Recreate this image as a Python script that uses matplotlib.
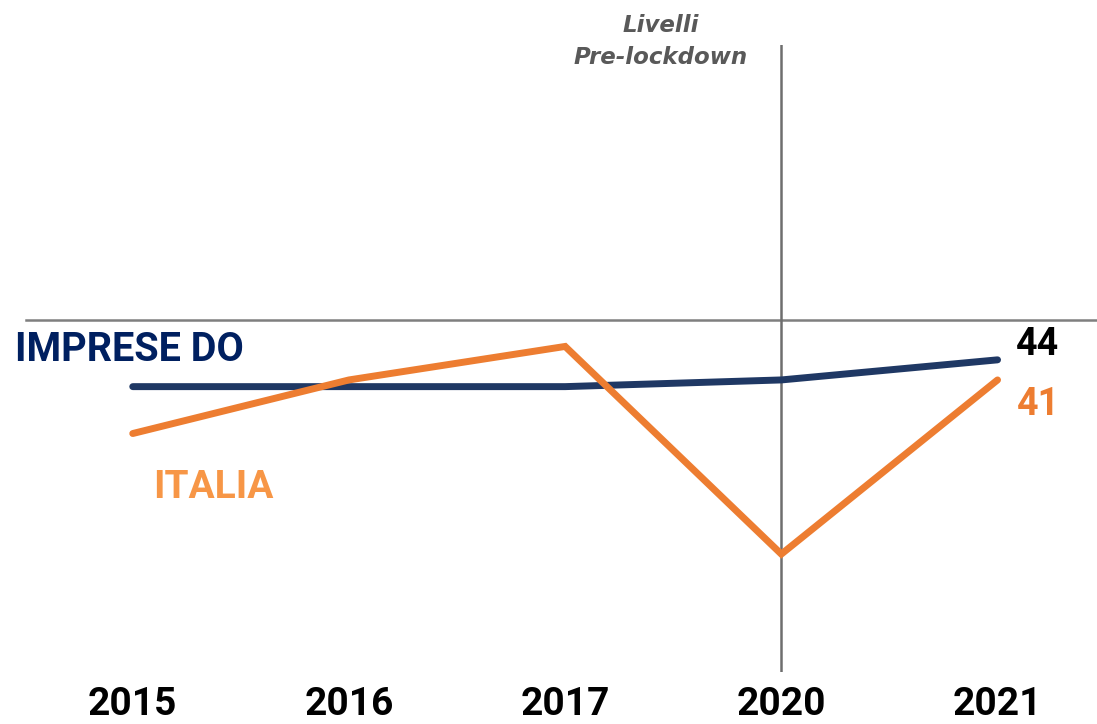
#!/usr/bin/env python3
"""Line chart: IMPRESE DO vs ITALIA, with pre-lockdown reference lines."""

import matplotlib

matplotlib.use("Agg")

import matplotlib.pyplot as plt

YEARS = ["2015", "2016", "2017", "2020", "2021"]
IMPRESE_DO = [40, 40, 40, 41, 44]
ITALIA = [33, 41, 46, 15, 41]
PRE_LOCKDOWN_LEVEL = 50
LOCKDOWN_YEAR = "2020"

BLUE = "#1F3864"
ORANGE = "#ED7D31"
NAVY_TEXT = "#002060"
ORANGE_TEXT = "#F79646"
GREY = "#7F7F7F"
BOLD_FONT = ["Roboto", "DejaVu Sans"]


def main() -> None:
    fig = plt.figure(figsize=(10.97, 7.24), dpi=100)
    ax = fig.add_axes([0.0, 52 / 724, 1.0, 627 / 724])
    x = list(range(len(YEARS)))

    ax.plot(x, IMPRESE_DO, color=BLUE, linewidth=5.0, solid_capstyle="round",
            solid_joinstyle="round", zorder=3)
    ax.plot(x, ITALIA, color=ORANGE, linewidth=5.0, solid_capstyle="round",
            solid_joinstyle="miter", zorder=4)

    ax.axhline(PRE_LOCKDOWN_LEVEL, xmin=26 / 1097, xmax=1.0, color=GREY, linewidth=1.8, zorder=1)
    ax.axvline(YEARS.index(LOCKDOWN_YEAR), color="#6E6E6E", linewidth=1.8, zorder=2)

    ax.set_xlim(-0.614, 4.46)
    ax.set_ylim(-2.6, 91.0)
    for side in ax.spines.values():
        side.set_visible(False)
    ax.set_yticks([])
    ax.set_xticks(x)
    ax.set_xticklabels(YEARS, fontsize=28, fontweight="bold", family=BOLD_FONT, color="black")
    ax.tick_params(axis="x", length=0, pad=10)
    ax.patch.set_alpha(0)

    ax.text(-0.545, 45.5, "IMPRESE DO", color=NAVY_TEXT, fontsize=28.5, fontweight="bold",
            family=BOLD_FONT, ha="left", va="center")
    ax.text(0.092, 25.0, "ITALIA", color=ORANGE_TEXT, fontsize=28, fontweight="bold",
            family=BOLD_FONT, ha="left", va="center")

    ax.annotate(str(IMPRESE_DO[-1]), (x[-1], IMPRESE_DO[-1]), xytext=(13, 11),
                textcoords="offset points", ha="left", va="center", fontsize=27,
                fontweight="bold", family=BOLD_FONT, color="black")
    ax.annotate(str(ITALIA[-1]), (x[-1], ITALIA[-1]), xytext=(14, -18),
                textcoords="offset points", ha="left", va="center", fontsize=27,
                fontweight="bold", family=BOLD_FONT, color=ORANGE)

    fig.text(661 / 1097, 1 - 25 / 724, "Livelli", color="#595959", fontsize=16.5,
             fontweight="bold", fontstyle="italic", ha="center", va="center")
    fig.text(661 / 1097, 1 - 57 / 724, "Pre-lockdown", color="#595959", fontsize=16.5,
             fontweight="bold", fontstyle="italic", ha="center", va="center")

    fig.savefig("out.png", dpi=100)
    plt.close(fig)


if __name__ == "__main__":
    main()
